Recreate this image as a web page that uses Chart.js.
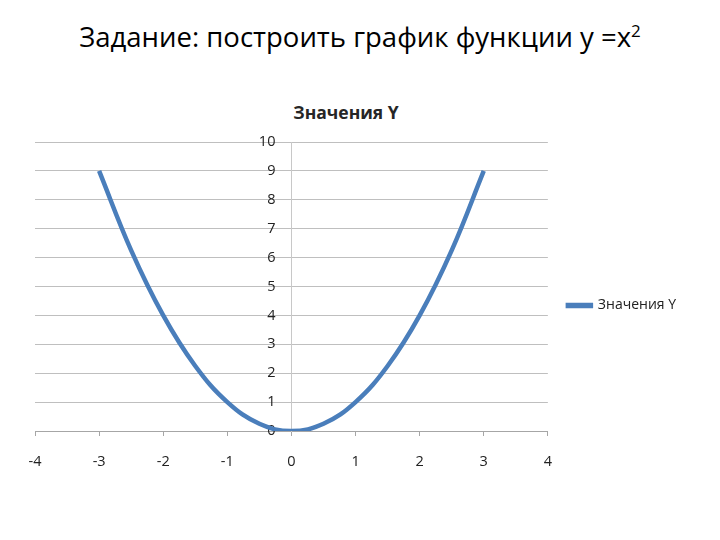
<!DOCTYPE html>
<html>
<head>
<meta charset="utf-8">
<script src="https://cdn.jsdelivr.net/npm/chart.js@4.4.0/dist/chart.umd.min.js"></script>
<style>
  body { margin: 0; width: 720px; height: 540px; background: #fff; position: relative; overflow: hidden; }
  #heading { position: absolute; top: 18px; left: 0; width: 720px; text-align: center;
    font-family: "Open Sans", sans-serif; font-size: 27.5px; color: #000; }
  #heading sup { font-size: 17px; }
  #chartTitle { position: absolute; top: 100px; left: 0; width: 692px; text-align: center;
    font-family: "Open Sans", sans-serif; font-weight: bold; font-size: 17.5px; color: #262626; }
  #wrap { position: absolute; top: 90px; left: 0; width: 688px; height: 399px; }
</style>
</head>
<body>
<div id="heading">Задание: построить график функции y =x<sup>2</sup></div>
<div id="chartTitle">Значения Y</div>
<div id="wrap"><canvas id="myChart"></canvas></div>
<script>
var xValues = [-3, -2.5, -2, -1.5, -1, -0.5, 0, 0.5, 1, 1.5, 2, 2.5, 3];
var yValues = [9, 6.25, 4, 2.25, 1, 0.25, 0, 0.25, 1, 2.25, 4, 6.25, 9];
var seriesName = 'Значения Y';
var xMin = -4, xMax = 4, yMin = 0, yMax = 10;

var points = xValues.map((x, i) => ({ x: x, y: yValues[i] }));

Chart.defaults.font.family = '"Open Sans", sans-serif';
Chart.defaults.color = '#222';

const ctx = document.getElementById('myChart').getContext('2d');
const myChart = new Chart(ctx, {
    type: 'line',
    data: {
        datasets: [{
            label: seriesName,
            data: points,
            borderColor: '#4a7ebb',
            backgroundColor: '#4a7ebb',
            borderWidth: 4.5,
            pointRadius: 0,
            tension: 0.4,
            fill: false
        }]
    },
    options: {
        responsive: true,
        maintainAspectRatio: false,
        animation: false,
        layout: {
            padding: { left: 35, right: 2, top: 52, bottom: 20 }
        },
        scales: {
            x: {
                type: 'linear',
                min: xMin,
                max: xMax,
                ticks: { stepSize: 1, font: { size: 14.5 }, color: '#222', padding: 17 },
                grid: { drawOnChartArea: false, drawTicks: true, tickLength: 5, color: '#a6a6a6' },
                border: { color: '#a6a6a6' },
                // tighter box than the default so the legend sits where the original has it
                afterFit: function (scale) { scale.height = 38; }
            },
            y: {
                // x range is symmetric, so the centre of the plot is x = 0
                position: 'center',
                min: yMin,
                max: yMax,
                ticks: { stepSize: 1, font: { size: 14.5 }, color: '#222', padding: 16 },
                grid: { color: '#bfbfbf', drawTicks: false },
                border: { color: '#c8c8c8' }
            }
        },
        plugins: {
            legend: {
                position: 'right',
                labels: { boxWidth: 23, boxHeight: 1, padding: 20, font: { size: 14 }, color: '#222' }
            },
            tooltip: { enabled: false }
        }
    }
});
</script>
</body>
</html>
